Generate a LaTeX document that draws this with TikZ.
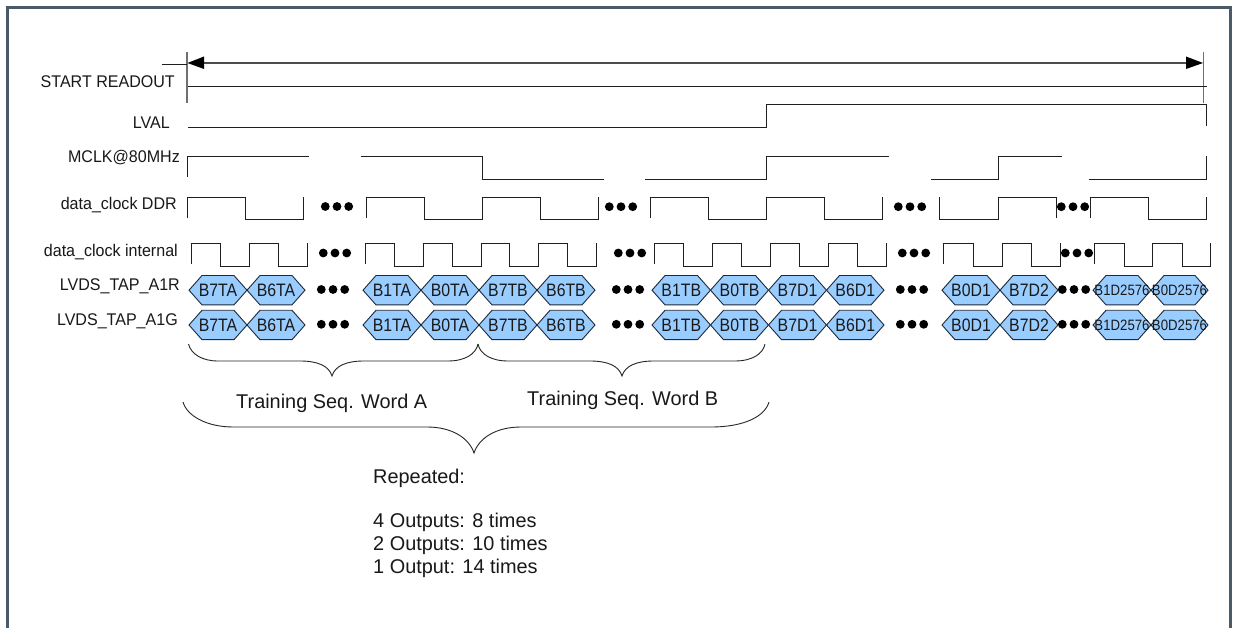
\documentclass[tikz,border=0pt]{standalone}
\usepackage{fontspec}
\setmainfont{Liberation Sans}
\newfontfamily\hexfont[FakeStretch=0.88]{Liberation Sans}
\newfontfamily\labfont[FakeStretch=0.95]{Liberation Sans}
\definecolor{frame}{HTML}{4A5A68}
\definecolor{hexfill}{HTML}{99CCFF}
\definecolor{hexline}{HTML}{1F2A38}
\definecolor{ticks}{HTML}{707070}
\tikzset{
  sig/.style={draw=black!88,line width=0.95pt,line join=miter},
  tickline/.style={draw=ticks,line width=1.3pt},
  hex/.style={draw=hexline,fill=hexfill,line width=0.9pt,line join=miter},
  lab/.style={inner sep=0pt,anchor=base east,font=\labfont\fontsize{16.9}{17}\selectfont,text=black!90},
  big/.style={inner sep=0pt,anchor=base west,font=\fontsize{19.9}{20}\selectfont,text=black!90},
  brace/.style={draw=black!85,line width=0.9pt},
  hexlab/.style={inner sep=0pt,font=\hexfont\fontsize{18}{18}\selectfont,text=black!90},
  hexsmall/.style={inner sep=0pt,font=\hexfont\fontsize{15}{15}\selectfont,text=black!90},
}
\newcommand{\hexcell}[5][hexlab]{% style, x1, x2, y-centre, text
  \pgfmathsetmacro{\hxa}{#2+13}\pgfmathsetmacro{\hxb}{#3-13}
  \pgfmathsetmacro{\hya}{#4-14.7}\pgfmathsetmacro{\hyb}{#4+14.7}
  \path[hex] (#2,#4)--(\hxa,\hya)--(\hxb,\hya)--(#3,#4)--(\hxb,\hyb)--(\hxa,\hyb)--cycle;
  \pgfmathsetmacro{\hxc}{(#2+#3)/2}
  \node[#1] (cell-#2-#4) at (\hxc,#4) {#5};
}
\newcommand{\threedots}[2]{% left x, y
  \foreach \dd in {4.3,16,27.7}{\fill[black] ({#1+\dd},#2) circle[radius=4.4];}
}
\begin{document}
\begin{tikzpicture}[x=1pt,y=-1pt]
\useasboundingbox (0,0) rectangle (1237,628);
\fill[white] (0,0) rectangle (1237,628);
% frame
\draw[frame,line width=3pt] (7.5,628)--(7.5,8)--(1230,8)--(1230,628);
% arrows row
\draw[tickline] (187,52)--(187,103);
\draw[tickline] (1203.7,52)--(1203.7,103);
\coordinate (arrL) at (187.5,63);
\coordinate (arrR) at (1203,63);
\draw[draw=black!70,line width=1.2pt] (203,63)--(1188,63);
\fill[black] (arrL)--(204,56.5)--(204,69)--cycle;
\fill[black] (arrR)--(1186,56.5)--(1186,69)--cycle;
\draw[sig] (161.5,64)--(187,64);
% labels
\node[lab] (l1) at (175,88) {START READOUT};
\node[lab] (l2) at (170,129) {LVAL};
\node[lab] (l3) at (180,163) {MCLK@80MHz};
\node[lab] (l4) at (177,210) {data\_clock DDR};
\node[lab] (l5) at (178,257) {data\_clock internal};
\node[lab] (l6) at (180,291) {LVDS\_TAP\_A1R};
\node[lab] (l7) at (178,326) {LVDS\_TAP\_A1G};
% START READOUT, LVAL
\draw[sig] (188,86.3)--(1207,86.3);
\draw[sig] (188,127.5)--(766,127.5)--(766,104)--(1206.7,104)--(1206.7,126);
% MCLK
\draw[sig] (187,177)--(187,156)--(309,156);
\draw[sig] (361,156)--(482,156)--(482,179.5)--(604,179.5);
\draw[sig] (645,179.5)--(766,179.5)--(766,156)--(889,156);
\draw[sig] (931,179.5)--(998,179.5)--(998,156)--(1062,156);
\draw[sig] (1089,179.5)--(1206.7,179.5)--(1206.7,156.5);
% DDR
\draw[sig] (187,218)--(187,197)--(245,197)--(245,219.5)--(303,219.5)--(303,197.5);
\draw[sig] (366.5,218)--(366.5,197)--(424.5,197)--(424.5,219.5)--(482,219.5)--(482,197)--(540,197)--(540,219.5)--(598,219.5)--(598,197.5);
\draw[sig] (650,218)--(650,197)--(708,197)--(708,219.5)--(766,219.5)--(766,197)--(824,197)--(824,219.5)--(882,219.5)--(882,197.5);
\draw[sig] (939.5,197.5)--(939.5,219.5)--(998,219.5)--(998,197)--(1056,197)--(1056,218);
\draw[sig] (1090,218)--(1090,197)--(1148,197)--(1148,219.5)--(1206.7,219.5)--(1206.7,197.5);
\threedots{321}{206.5}\threedots{605}{206.7}\threedots{894}{206.7}\threedots{1057}{206.7}
% internal
\draw[sig] (191,264.5)--(191,243)--(220,243)--(220,266)--(249,266)--(249,243)--(278,243)--(278,266)--(307,266)--(307,243.5);
\draw[sig] (365,264.5)--(365,243)--(394,243)--(394,266)--(423,266)--(423,243)--(452,243)--(452,266)--(481,266)--(481,243)--(509.5,243)--(509.5,266)--(538,266)--(538,243)--(567,243)--(567,266)--(596,266)--(596,243.5);
\draw[sig] (654,264.5)--(654,243)--(683,243)--(683,266)--(712,266)--(712,243)--(741,243)--(741,266)--(770,266)--(770,243)--(799,243)--(799,266)--(828,266)--(828,243)--(857,243)--(857,266)--(886,266)--(886,243.5);
\draw[sig] (943,264.5)--(943,243)--(973,243)--(973,266)--(1002,266)--(1002,243)--(1031,243)--(1031,266)--(1060,266)--(1060,243.5);
\draw[sig] (1094,264.5)--(1094,243)--(1124,243)--(1124,266)--(1152,266)--(1152,243)--(1182,243)--(1182,266)--(1210,266)--(1210,243.5);
\threedots{319}{253}\threedots{614}{253}\threedots{898}{253}\threedots{1061}{253}
% data rows
\foreach \yy in {290.2,325}{
  \hexcell{189}{247}{\yy}{B7TA}
  \hexcell{247}{305}{\yy}{B6TA}
  \hexcell{363}{421}{\yy}{B1TA}
  \hexcell{421}{479}{\yy}{B0TA}
  \hexcell{479}{537}{\yy}{B7TB}
  \hexcell{537}{595}{\yy}{B6TB}
  \hexcell{652}{710.5}{\yy}{B1TB}
  \hexcell{710.5}{768.5}{\yy}{B0TB}
  \hexcell{768.5}{826.5}{\yy}{B7D1}
  \hexcell{826.5}{884}{\yy}{B6D1}
  \hexcell{942}{1000}{\yy}{B0D1}
  \hexcell{1000}{1058}{\yy}{B7D2}
  \hexcell[hexsmall]{1093}{1151}{\yy}{B1D2576}
  \hexcell[hexsmall]{1151}{1208}{\yy}{B0D2576}
  \threedots{317}{\yy-0.7}\threedots{612}{\yy-0.7}\threedots{896}{\yy-0.7}\threedots{1058}{\yy-0.7}
}
% braces
\draw[brace] (188.5,344) .. controls (191,354) and (202,361) .. (218,361) -- (300,361) .. controls (318,361) and (329,366) .. (332,376) .. controls (335,366) and (346,361) .. (364,361) -- (448,361) .. controls (465,361) and (476,354) .. (478,344);
\draw[brace] (478,344) .. controls (480,354) and (491,361) .. (508,361) -- (590,361) .. controls (608,361) and (619,366) .. (622,376) .. controls (625,366) and (636,361) .. (654,361) -- (735,361) .. controls (752,361) and (763,354) .. (765,344);
\draw[brace] (183,402) .. controls (187,416) and (207,427) .. (233,427) -- (427,427) .. controls (452,427) and (469,438) .. (474,453) .. controls (479,438) and (496,427) .. (521,427) -- (711,427) .. controls (745,427) and (765,416) .. (769,402);
% big text
\node[big] (tA) at (236,408) {Training Seq. Word A};
\node[big] (tB) at (527,405) {Training Seq. Word B};
\node[big] (r0) at (373,483) {Repeated:};
\node[big] (r1) at (373,527) {4 Outputs: 8 times};
\node[big] (r2) at (373,550) {2 Outputs: 10 times};
\node[big] (r3) at (373,573) {1 Output: 14 times};
\end{tikzpicture}
\end{document}
